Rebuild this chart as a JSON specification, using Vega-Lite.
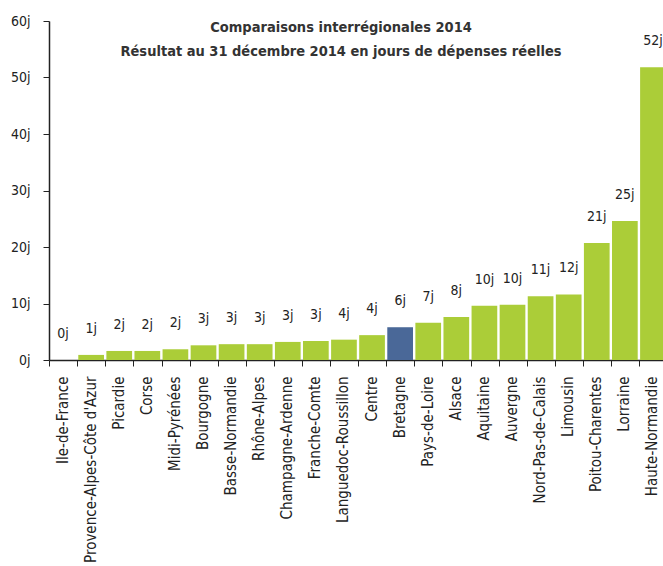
{
  "$schema": "https://vega.github.io/schema/vega-lite/v6.json",
  "autosize": {"type": "none"},
  "padding": {"left": 49, "top": 21, "right": 0, "bottom": 206},
  "width": 618,
  "height": 339,
  "background": "white",
  "title": {
    "text": ["Comparaisons interrégionales 2014", "Résultat au 31 décembre 2014 en jours de dépenses réelles"],
    "font": "DejaVu Sans Condensed",
    "fontSize": 14.5,
    "fontWeight": "bold",
    "color": "#333333",
    "lineHeight": 24,
    "anchor": "middle",
    "baseline": "top",
    "offset": -45,
    "dx": -17
  },
  "data": {
    "values": [
      {"region": "Ile-de-France", "jours": 0, "lab": "0j"},
      {"region": "Provence-Alpes-Côte d'Azur", "jours": 0.9, "lab": "1j"},
      {"region": "Picardie", "jours": 1.6, "lab": "2j"},
      {"region": "Corse", "jours": 1.6, "lab": "2j"},
      {"region": "Midi-Pyrénées", "jours": 1.9, "lab": "2j"},
      {"region": "Bourgogne", "jours": 2.6, "lab": "3j"},
      {"region": "Basse-Normandie", "jours": 2.8, "lab": "3j"},
      {"region": "Rhône-Alpes", "jours": 2.8, "lab": "3j"},
      {"region": "Champagne-Ardenne", "jours": 3.2, "lab": "3j"},
      {"region": "Franche-Comte", "jours": 3.35, "lab": "3j"},
      {"region": "Languedoc-Roussillon", "jours": 3.6, "lab": "4j"},
      {"region": "Centre", "jours": 4.4, "lab": "4j"},
      {"region": "Bretagne", "jours": 5.8, "lab": "6j"},
      {"region": "Pays-de-Loire", "jours": 6.6, "lab": "7j"},
      {"region": "Alsace", "jours": 7.6, "lab": "8j"},
      {"region": "Aquitaine", "jours": 9.6, "lab": "10j"},
      {"region": "Auvergne", "jours": 9.8, "lab": "10j"},
      {"region": "Nord-Pas-de-Calais", "jours": 11.3, "lab": "11j"},
      {"region": "Limousin", "jours": 11.6, "lab": "12j"},
      {"region": "Poitou-Charentes", "jours": 20.7, "lab": "21j"},
      {"region": "Lorraine", "jours": 24.6, "lab": "25j"},
      {"region": "Haute-Normandie", "jours": 51.8, "lab": "52j"}
    ]
  },
  "encoding": {
    "x": {
      "field": "region",
      "type": "nominal",
      "sort": null,
      "scale": {"paddingInner": 0.085, "paddingOuter": 0.0425},
      "axis": {
        "title": null,
        "labelAngle": -90,
        "labelAlign": "right",
        "labelBaseline": "middle",
        "labelFont": "DejaVu Sans Condensed",
        "labelFontSize": 15,
        "labelColor": "#222222",
        "labelPadding": 10,
        "labelLimit": 300,
        "bandPosition": 0,
        "tickOffset": -1,
        "tickSize": 6,
        "tickColor": "#222222",
        "domainColor": "#222222",
        "domainWidth": 1.5,
        "grid": false
      }
    },
    "y": {
      "field": "jours",
      "type": "quantitative",
      "scale": {"domain": [0, 60], "nice": false},
      "axis": {
        "title": null,
        "values": [0, 10, 20, 30, 40, 50, 60],
        "labelExpr": "datum.value + 'j'",
        "labelFont": "DejaVu Sans Condensed",
        "labelFontSize": 14,
        "labelColor": "#222222",
        "labelPadding": 13,
        "tickSize": 6,
        "tickColor": "#222222",
        "domainColor": "#222222",
        "domainWidth": 1.5,
        "grid": false
      }
    }
  },
  "layer": [
    {
      "mark": {"type": "bar"},
      "encoding": {
        "color": {
          "condition": {"test": "datum.region === 'Bretagne'", "value": "#4a6898"},
          "value": "#abcd38"
        }
      }
    },
    {
      "mark": {"type": "text", "font": "DejaVu Sans Condensed", "fontSize": 14, "color": "#222222", "baseline": "alphabetic", "dy": -22},
      "encoding": {"text": {"field": "lab"}}
    }
  ],
  "config": {"view": {"stroke": null}}
}
